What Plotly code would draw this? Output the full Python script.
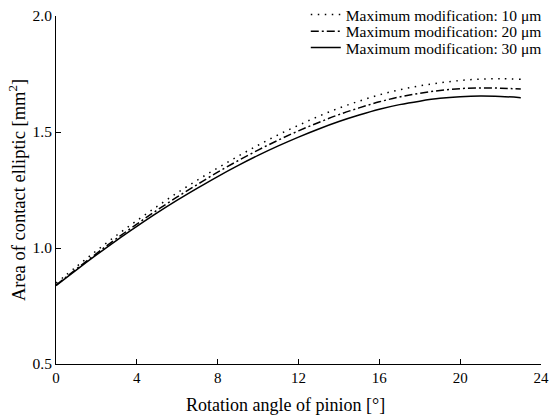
import plotly.graph_objects as go

angle = list(range(0, 24))
area_30 = [0.838, 0.905, 0.970, 1.033, 1.093, 1.151, 1.206, 1.258, 1.308, 1.355,
           1.399, 1.440, 1.478, 1.513, 1.545, 1.573, 1.598, 1.618, 1.633, 1.645,
           1.652, 1.655, 1.653, 1.648]
area_20 = [0.840, 0.909, 0.976, 1.041, 1.103, 1.163, 1.220, 1.274, 1.327, 1.376,
           1.422, 1.465, 1.505, 1.541, 1.575, 1.604, 1.630, 1.651, 1.667, 1.679,
           1.687, 1.690, 1.689, 1.685]
area_10 = [0.848, 0.919, 0.988, 1.055, 1.118, 1.179, 1.238, 1.293, 1.345, 1.395,
           1.443, 1.488, 1.529, 1.568, 1.603, 1.633, 1.660, 1.682, 1.699, 1.712,
           1.722, 1.728, 1.730, 1.727]
names = ["Maximum modification: 10 μm", "Maximum modification: 20 μm",
         "Maximum modification: 30 μm"]
x_title = "Rotation angle of pinion [°]"
y_title = "Area of contact elliptic [mm<sup>2</sup>]"

FONT = "Times New Roman"

fig = go.Figure()
fig.add_trace(go.Scatter(x=angle, y=area_10, mode="lines", name=names[0], legend="legend",
                         line=dict(color="black", width=1.5, dash="1.5px,5.5px", shape="spline")))
fig.add_trace(go.Scatter(x=angle, y=area_20, mode="lines", name=names[1], legend="legend2",
                         line=dict(color="black", width=1.5, dash="8px,3px,2px,3px",
                                   shape="spline")))
fig.add_trace(go.Scatter(x=angle, y=area_30, mode="lines", name=names[2], legend="legend3",
                         line=dict(color="black", width=1.5, shape="spline")))

leg = dict(x=0.515, xanchor="left", yanchor="middle", bgcolor="rgba(0,0,0,0)",
           font=dict(size=15.5, family=FONT), itemwidth=30)
fig.update_layout(
    width=549, height=420,
    margin=dict(l=56, r=8, t=16, b=56, autoexpand=False),
    paper_bgcolor="white", plot_bgcolor="white",
    font=dict(family=FONT, size=15, color="black"),
    legend=dict(leg, y=1.003),
    legend2=dict(leg, y=0.955),
    legend3=dict(leg, y=0.908),
    showlegend=True,
    annotations=[dict(text=x_title, xref="paper", yref="paper", x=0.474, y=-0.118,
                      xanchor="center", yanchor="middle", showarrow=False,
                      font=dict(size=18, family=FONT))],
)
fig.update_xaxes(range=[0, 24], dtick=4, tick0=0, showline=True, linecolor="black",
                 linewidth=1, ticks="inside", ticklen=5, tickcolor="black",
                 showgrid=False, zeroline=False, automargin=False,
                 tickfont=dict(family=FONT, size=15))
fig.update_yaxes(range=[0.5, 2.0], dtick=0.5, tick0=0.5, tickformat=".1f", showline=True,
                 linecolor="black", linewidth=1, ticks="inside", ticklen=5, tickcolor="black",
                 showgrid=False, zeroline=False, automargin=False,
                 tickfont=dict(family=FONT, size=15.5),
                 title=dict(text=y_title, font=dict(size=18.5, family=FONT), standoff=2))

fig.write_html("out.html", config={"displayModeBar": False},
               post_script="document.body.style.margin='0';")
